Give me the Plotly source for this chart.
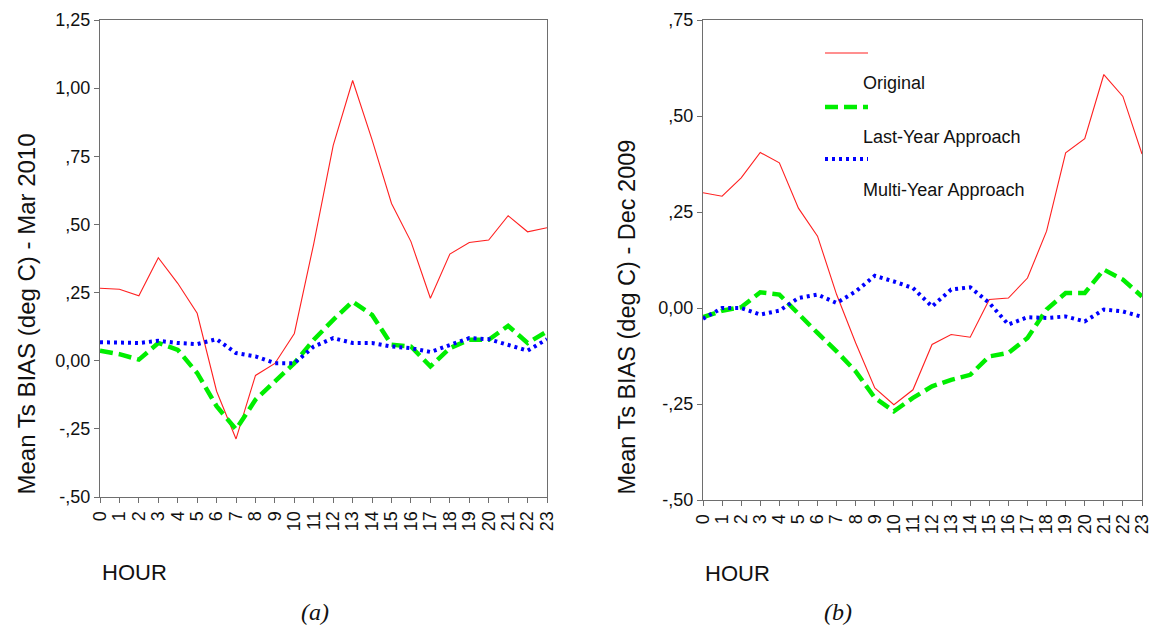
import plotly.graph_objects as go

hours = list(range(24))
hour_labels = [str(h) for h in hours]

a_original = [0.266, 0.262, 0.238, 0.378, 0.284, 0.174, -0.112, -0.287, -0.054, -0.010, 0.100, 0.430,
              0.790, 1.028, 0.810, 0.577, 0.437, 0.229, 0.391, 0.434, 0.443, 0.532, 0.473, 0.488]
a_last_year = [0.037, 0.024, 0.004, 0.065, 0.040, -0.045, -0.167, -0.252, -0.143, -0.076, -0.009, 0.077,
               0.150, 0.217, 0.168, 0.059, 0.052, -0.021, 0.046, 0.077, 0.077, 0.128, 0.065, 0.107]
a_multi_year = [0.068, 0.068, 0.065, 0.073, 0.065, 0.061, 0.079, 0.028, 0.016, -0.009, -0.009, 0.052,
                0.083, 0.065, 0.065, 0.052, 0.046, 0.032, 0.059, 0.083, 0.079, 0.059, 0.037, 0.079]

b_original = [0.300, 0.291, 0.339, 0.405, 0.378, 0.260, 0.187, 0.035, -0.091, -0.208, -0.252, -0.213,
              -0.095, -0.069, -0.076, 0.022, 0.026, 0.078, 0.200, 0.404, 0.441, 0.608, 0.551, 0.401]
b_last_year = [-0.024, -0.007, 0.002, 0.041, 0.035, -0.017, -0.065, -0.113, -0.165, -0.234, -0.269, -0.234,
               -0.204, -0.187, -0.174, -0.126, -0.117, -0.078, -0.004, 0.039, 0.039, 0.100, 0.074, 0.030]
b_multi_year = [-0.028, 0.000, 0.000, -0.017, -0.007, 0.026, 0.035, 0.013, 0.043, 0.084, 0.069, 0.052,
                0.004, 0.048, 0.054, 0.013, -0.043, -0.024, -0.026, -0.022, -0.035, -0.004, -0.009, -0.023]

a_ytickvals = [-0.5, -0.25, 0.0, 0.25, 0.5, 0.75, 1.0, 1.25]
a_yticktext = ["-,50", "-,25", "0,00", ",25", ",50", ",75", "1,00", "1,25"]
b_ytickvals = [-0.5, -0.25, 0.0, 0.25, 0.5, 0.75]
b_yticktext = ["-,50", "-,25", "0,00", ",25", ",50", ",75"]

series_names = ["Original", "Last-Year Approach", "Multi-Year Approach"]
RED, GREEN, BLUE = "#ff2020", "#00ee00", "#0000ff"

OFF = 8  # page body margin
W, H = 1158 - 2 * OFF, 634 - 2 * OFF
FONT = "Liberation Sans, Arial, sans-serif"


def px_x(p):
    return (p - OFF) / W


def px_y(p):
    return 1 - (p - OFF) / H


fig = go.Figure()

styles = [
    dict(color=RED, width=1.1, dash="solid"),
    dict(color=GREEN, width=4.5, dash="13px,6px"),
    dict(color=BLUE, width=4, dash="3px,4px"),
]

for (xa, ya, data) in [("x", "y", [a_original, a_last_year, a_multi_year]),
                       ("x2", "y2", [b_original, b_last_year, b_multi_year])]:
    for name, vals, st in zip(series_names, data, styles):
        fig.add_trace(go.Scatter(x=hours, y=vals, mode="lines", name=name,
                                 line=st, xaxis=xa, yaxis=ya, showlegend=False))

axis_common = dict(showline=True, linecolor="#6e6e6e", linewidth=1, mirror=True,
                   ticks="outside", ticklen=5, tickcolor="#6e6e6e", showgrid=False,
                   zeroline=False, automargin=False, ticklabeloverflow="allow",
                   tickfont=dict(family=FONT, size=18, color="#111"))

fig.update_layout(
    width=W, height=H,
    margin=dict(l=0, r=0, t=0, b=0, autoexpand=False),
    paper_bgcolor="white", plot_bgcolor="white",
    xaxis=dict(domain=[px_x(100), px_x(547)], range=[0, 23], tickvals=hours, ticktext=hour_labels,
               tickangle=-90, anchor="y", ticklabelstandoff=1, **axis_common),
    yaxis=dict(domain=[px_y(497), px_y(20)], range=[-0.5, 1.25], tickvals=a_ytickvals,
               ticktext=a_yticktext, anchor="x", **axis_common),
    xaxis2=dict(domain=[px_x(703), px_x(1142)], range=[0, 23], tickvals=hours, ticktext=hour_labels,
                tickangle=-90, anchor="y2", ticklabelstandoff=1, **axis_common),
    yaxis2=dict(domain=[px_y(500), px_y(20)], range=[-0.5, 0.75], tickvals=b_ytickvals,
                ticktext=b_yticktext, anchor="x2", **axis_common),
)

annotations = [
    dict(text="Mean Ts BIAS (deg C) - Mar 2010", x=px_x(26), y=px_y(497), textangle=-90,
         xanchor="center", yanchor="bottom", font=dict(family=FONT, size=24, color="#111")),
    dict(text="Mean Ts BIAS (deg C) - Dec 2009", x=px_x(626), y=px_y(497), textangle=-90,
         xanchor="center", yanchor="bottom", font=dict(family=FONT, size=23.5, color="#111")),
    dict(text="HOUR", x=px_x(100), y=px_y(572), xanchor="left", yanchor="middle",
         font=dict(family=FONT, size=22, color="#111")),
    dict(text="HOUR", x=px_x(703), y=px_y(573), xanchor="left", yanchor="middle",
         font=dict(family=FONT, size=22, color="#111")),
    dict(text="<i>(a)</i>", x=px_x(315), y=px_y(612), xanchor="center", yanchor="middle",
         font=dict(family="Liberation Serif, Times New Roman, serif", size=24, color="#111")),
    dict(text="<i>(b)</i>", x=px_x(838), y=px_y(612), xanchor="center", yanchor="middle",
         font=dict(family="Liberation Serif, Times New Roman, serif", size=24, color="#111")),
]

# legend inside panel (b)
legend_rows = [(53, 83), (107, 137), (159, 190)]
shapes = []
for (ly, ty), name, st in zip(legend_rows, series_names, styles):
    shapes.append(dict(type="line", xref="paper", yref="paper", x0=px_x(825), x1=px_x(868),
                       y0=px_y(ly), y1=px_y(ly), line=dict(color=st["color"], width=st["width"],
                                                           dash=st["dash"])))
    annotations.append(dict(text=name, x=px_x(861), y=px_y(ty), xanchor="left", yanchor="middle",
                            font=dict(family=FONT, size=18, color="#111")))

for a in annotations:
    a.update(xref="paper", yref="paper", showarrow=False)

fig.update_layout(annotations=annotations, shapes=shapes)

fig.write_html("out.html")
